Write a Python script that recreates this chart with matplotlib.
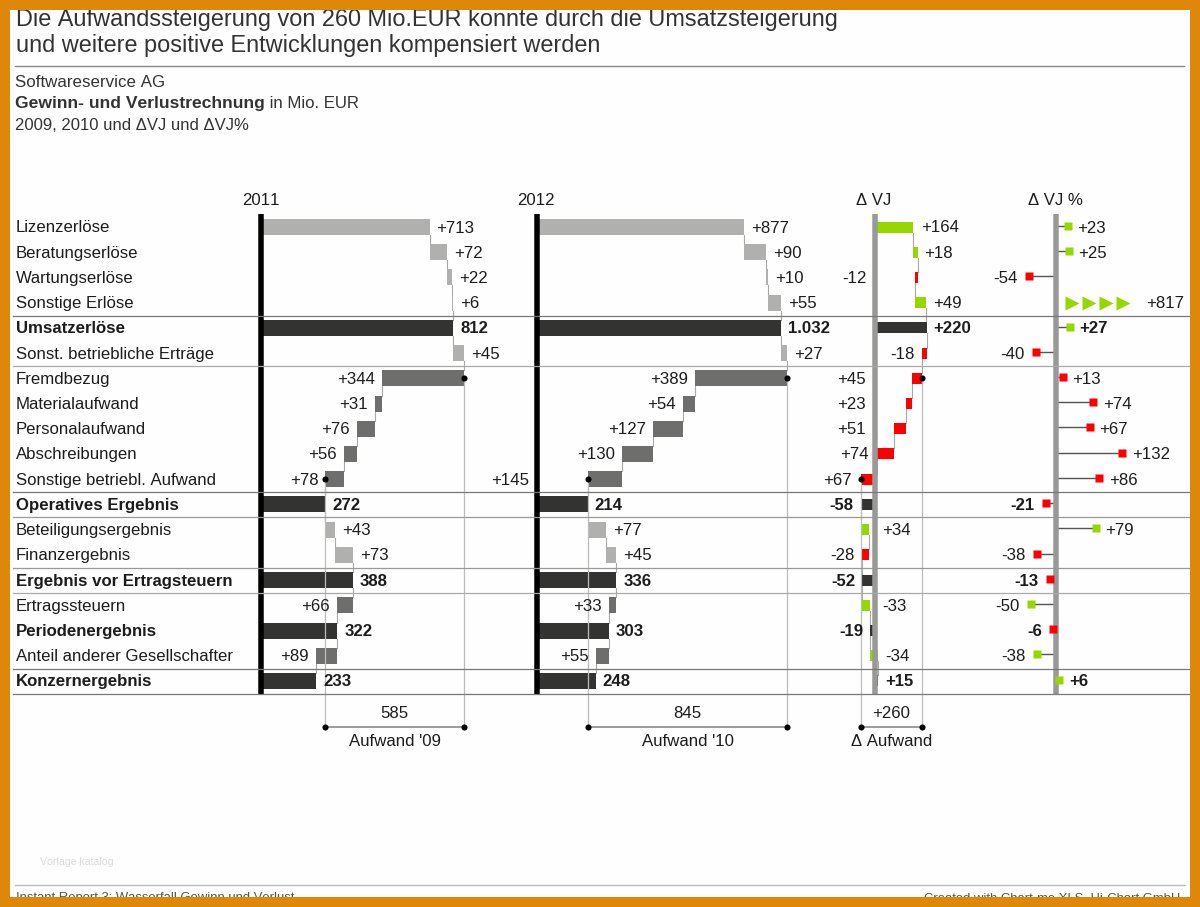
import matplotlib
matplotlib.use("Agg")
import matplotlib.pyplot as plt
from matplotlib.patches import Rectangle

plt.rcParams['font.family'] = ['Liberation Sans', 'DejaVu Sans']
plt.rcParams['text.kerning_factor'] = 6  # the "11" pair collapses otherwise

# --- data ---
row_names = ["Lizenzerlöse", "Beratungserlöse", "Wartungserlöse", "Sonstige Erlöse", "Umsatzerlöse",
             "Sonst. betriebliche Erträge", "Fremdbezug", "Materialaufwand", "Personalaufwand",
             "Abschreibungen", "Sonstige betriebl. Aufwand", "Operatives Ergebnis",
             "Beteiligungsergebnis", "Finanzergebnis", "Ergebnis vor Ertragsteuern", "Ertragssteuern",
             "Periodenergebnis", "Anteil anderer Gesellschafter", "Konzernergebnis"]
total_rows = [4, 11, 14, 16, 18]

# totals are absolute, everything else is a signed step of the waterfall
values_2011 = [713, 72, 22, 6, 812, 45, -344, -31, -76, -56, -78, 272, 43, 73, 388, -66, 322, -89, 233]
values_2012 = [877, 90, 10, 55, 1032, 27, -389, -54, -127, -130, -145, 214, 77, 45, 336, -33, 303, -55, 248]
values_dvj = [164, 18, -12, 49, 220, -18, -45, -23, -51, -74, -67, -58, 34, -28, -52, 33, -19, 34, 15]

labels_2011 = ["+713", "+72", "+22", "+6", "812", "+45", "+344", "+31", "+76", "+56", "+78", "272",
               "+43", "+73", "388", "+66", "322", "+89", "233"]
labels_2012 = ["+877", "+90", "+10", "+55", "1.032", "+27", "+389", "+54", "+127", "+130", "+145", "214",
               "+77", "+45", "336", "+33", "303", "+55", "248"]
labels_dvj = ["+164", "+18", "-12", "+49", "+220", "-18", "+45", "+23", "+51", "+74", "+67", "-58",
              "+34", "-28", "-52", "-33", "-19", "-34", "+15"]
good_dvj = [1, 1, 0, 1, 1, 0, 0, 0, 0, 0, 0, 0, 1, 0, 0, 1, 0, 1, 1]

values_pct = [23, 25, -54, 817, 27, -40, 13, 74, 67, 132, 86, -21, 79, -38, -13, -50, -6, -38, 6]
labels_pct = ["+23", "+25", "-54", "+817", "+27", "-40", "+13", "+74", "+67", "+132", "+86", "-21",
              "+79", "-38", "-13", "-50", "-6", "-38", "+6"]
good_pct = [1, 1, 0, 1, 1, 0, 0, 0, 0, 0, 0, 0, 1, 0, 0, 1, 0, 1, 1]
outlier_row = 3
outlier_arrows = [31, 66, 99, 134]

# (side, pixel x) of the delta labels, they do not follow one simple rule
dvj_label_pos = [("l", 921), ("l", 924), ("r", 867), ("l", 933), ("l", 933), ("r", 915), ("r", 866),
                 ("r", 866), ("r", 866), ("r", 869), ("r", 852), ("r", 853), ("l", 882), ("r", 855),
                 ("r", 855), ("l", 882), ("r", 863), ("l", 885), ("l", 885)]

# --- layout ---
W, H = 1200, 907
ROW0, PITCH = 227.0, 25.22
FS = 12.1
PX = 0.72  # points per pixel at dpi 100
BRACKET_ROW = (727 - ROW0) / PITCH
BASE = 5.5 / PITCH  # from row centre to text baseline
COST_START = 6  # first cost row, the revenue level is taken from the row before
COST_END = 10

ORANGE = "#DE8708"
LIGHT = "#B0B1AE"
MID = "#6E6F6D"
DARK = "#333432"
GREEN = "#94D800"
RED = "#FF0000"
TXT = "#1c1c1c"

fig = plt.figure(figsize=(W / 100, H / 100), dpi=100, facecolor="#FDFEFD")

page = fig.add_axes([0, 0, 1, 1])
page.set_xlim(0, W)
page.set_ylim(H, 0)
page.axis("off")


def panel_axes(origin, px_per_unit):
    ax = fig.add_axes([0, 0, 1, 1])
    ax.set_xlim(-origin / px_per_unit, (W - origin) / px_per_unit)
    ax.set_ylim((H - ROW0) / PITCH, -ROW0 / PITCH)
    ax.axis("off")
    return ax


def waterfall(ax, values, colors, bar_h, conn_color="#A8A8A8"):
    """Draw bars and connectors, returns the level reached after each row."""
    cum = 0
    levels = []
    spans = []
    for i, v in enumerate(values):
        if i in total_rows:
            left, right = min(0, v), max(0, v)
            cum = v
        else:
            left, right = min(cum, cum + v), max(cum, cum + v)
            cum += v
        ax.barh(i, right - left, left=left, height=bar_h, color=colors[i], linewidth=0, zorder=2)
        levels.append(cum)
        spans.append((left, right))
    for i in range(len(values) - 1):
        ax.plot([levels[i], levels[i]], [i + bar_h / 2, i + 1 - bar_h / 2], color=conn_color, lw=0.8, zorder=1)
    return levels, spans


def bracket(ax, levels, text, caption):
    x_top, x_low = levels[COST_START - 1], levels[COST_END]
    for x, r in [(x_top, COST_START), (x_low, COST_END)]:
        ax.plot([x, x], [r, BRACKET_ROW], color="#BDBDBB", lw=0.9, zorder=3)
    ax.plot([x_low, x_top], [BRACKET_ROW, BRACKET_ROW], color="#808080", lw=1.1, zorder=3)
    ax.plot([x_top, x_low, x_top, x_low], [COST_START, COST_END, BRACKET_ROW, BRACKET_ROW], ls="none",
            marker="o", ms=4.4, mfc="black", mec="none", zorder=6)
    mid = (x_top + x_low) / 2
    ax.text(mid, BRACKET_ROW - 0.55, text, ha="center", va="center", fontsize=FS, color=TXT)
    ax.text(mid, BRACKET_ROW + 0.56, caption, ha="center", va="center", fontsize=FS, color=TXT)


def year_panel(origin, values, labels, extra_offset=None):
    extra_offset = extra_offset or {}
    ax = panel_axes(origin, SCALE)
    colors = [DARK if i in total_rows else (LIGHT if v > 0 else MID) for i, v in enumerate(values)]
    levels, spans = waterfall(ax, values, colors, 16 / PITCH)
    ax.vlines(0, -0.5, 18.5, color="black", lw=5.5 * PX, zorder=5)
    for i, lab in enumerate(labels):
        bold = i in total_rows
        left, right = spans[i]
        if values[i] < 0:
            off = -7 + extra_offset.get(i, 0)
            ax.annotate(lab, (left, i + BASE), xytext=(off * PX, 0), textcoords="offset points", ha="right",
                        va="baseline", fontsize=FS, color=TXT, fontweight="bold" if bold else "normal", zorder=7)
        else:
            ax.annotate(lab, (right, i + BASE), xytext=(7 * PX, 0), textcoords="offset points", ha="left",
                        va="baseline", fontsize=FS, color=TXT, fontweight="bold" if bold else "normal", zorder=7)
    return ax, levels


SCALE = 0.2365

# row separators
sep_rows = [(315.5, "#777777"), (365.5, "#AAAAAA"), (491.5, "#777777"), (516.5, "#999999"),
            (567.5, "#999999"), (592.5, "#AAAAAA"), (668.5, "#777777"), (693.5, "#777777")]
for y, c in sep_rows:
    page.plot([13, 1190], [y, y], color=c, lw=0.9, zorder=1)

# row names
for i, name in enumerate(row_names):
    page.text(16, ROW0 + PITCH * i + 5.5, name, ha="left", va="baseline", fontsize=FS, color=TXT,
              fontweight="bold" if i in total_rows else "normal")

# year panels
ax11, lv11 = year_panel(261, values_2011, labels_2011)
bracket(ax11, lv11, "585", "Aufwand '09")
ax12, lv12 = year_panel(537, values_2012, labels_2012, extra_offset={10: -51})
bracket(ax12, lv12, "845", "Aufwand '10")

# delta panel
ax_d = panel_axes(874.5, SCALE)
d_colors = [DARK if i in total_rows else (GREEN if g else RED) for i, g in enumerate(good_dvj)]
lv_d, _ = waterfall(ax_d, values_dvj, d_colors, 11 / PITCH)
ax_d.vlines(0, -0.5, 18.5, color="#999A98", lw=5.5 * PX, zorder=5)
bracket(ax_d, lv_d, "+260", "Δ Aufwand")
for i, (lab, (side, x)) in enumerate(zip(labels_dvj, dvj_label_pos)):
    page.text(x, ROW0 + PITCH * i + 5.5, lab, ha="left" if side == "l" else "right", va="baseline", fontsize=FS,
              color=TXT, fontweight="bold" if i in total_rows else "normal")

# delta percent panel
ax_p = panel_axes(1056, 0.5)
ax_p.set_zorder(3)
ax_p.vlines(0, -0.5, 18.5, color="#999A98", lw=5.5 * PX, zorder=1.5)
for i, v in enumerate(values_pct):
    col = GREEN if good_pct[i] else RED
    y = i - 1.3 / PITCH
    weight = "bold" if i in total_rows else "normal"
    if i == outlier_row:
        ax_p.plot(outlier_arrows, [i] * len(outlier_arrows), ls="none", marker=">", ms=9.5, mfc=GREEN, mec="none")
        page.text(1146, ROW0 + PITCH * i + 5.5, labels_pct[i], ha="left", va="baseline", fontsize=FS, color=TXT)
        continue
    ax_p.plot([0, v], [y, y], color="#555555", lw=1.0, zorder=1)
    ax_p.plot([v], [y], ls="none", marker="s", ms=5.6, mfc=col, mec="none", zorder=2)
    ax_p.annotate(labels_pct[i], (v, i + BASE), xytext=((10 if v > 0 else -11) * PX, 0), textcoords="offset points",
                  ha="left" if v > 0 else "right", va="baseline", fontsize=FS, color=TXT, fontweight=weight)

# column headers
for x, txt in [(261, "2011"), (536, "2012"), (874, "Δ VJ"), (1055, "Δ VJ %")]:
    page.text(x, 205, txt, ha="center", va="baseline", fontsize=FS, color=TXT)

# title block
page.text(16, 26, "Die Aufwandssteigerung von 260 Mio.EUR konnte durch die Umsatzsteigerung", fontsize=16.9,
          color="#333333", va="baseline")
page.text(16, 52, "und weitere positive Entwicklungen kompensiert werden", fontsize=16.9, color="#333333",
          va="baseline")
page.plot([15, 1184], [66, 66], color="#888888", lw=1.0)
page.text(15, 87, "Softwareservice AG", fontsize=12.2, color="#333333", va="baseline")
t = page.text(15, 108, "Gewinn- und Verlustrechnung", fontsize=12.6, color="#333333", va="baseline", fontweight="bold")
page.annotate(" in Mio. EUR", xy=(1, 0), xycoords=t, va="bottom", fontsize=12.1, color="#333333")
page.text(15, 130, "2009, 2010 und ΔVJ und ΔVJ%", fontsize=12.0, color="#333333", va="baseline")

# footer and frame
page.text(40, 865, "Vorlage katalog", fontsize=7.6, color="#DADADA", va="baseline")
page.plot([15, 1185], [885, 885], color="#BBBBBB", lw=1.0)
page.text(16, 901.5, "Instant Report 3: Wasserfall Gewinn und Verlust", fontsize=9.4, color="#555555", va="baseline")
page.text(1180, 901.5, "Created with Chart-me XLS, Hi-Chart GmbH", fontsize=9.4, color="#555555", va="baseline",
          ha="right")
page.set_zorder(4)
for x, y, w, h in [(0, 0, W, 10), (0, 897, W, 10), (0, 0, 10, H), (1190, 0, 10, H)]:
    page.add_patch(Rectangle((x, y), w, h, facecolor=ORANGE, edgecolor="none", zorder=20))

fig.savefig("out.png", dpi=100)
